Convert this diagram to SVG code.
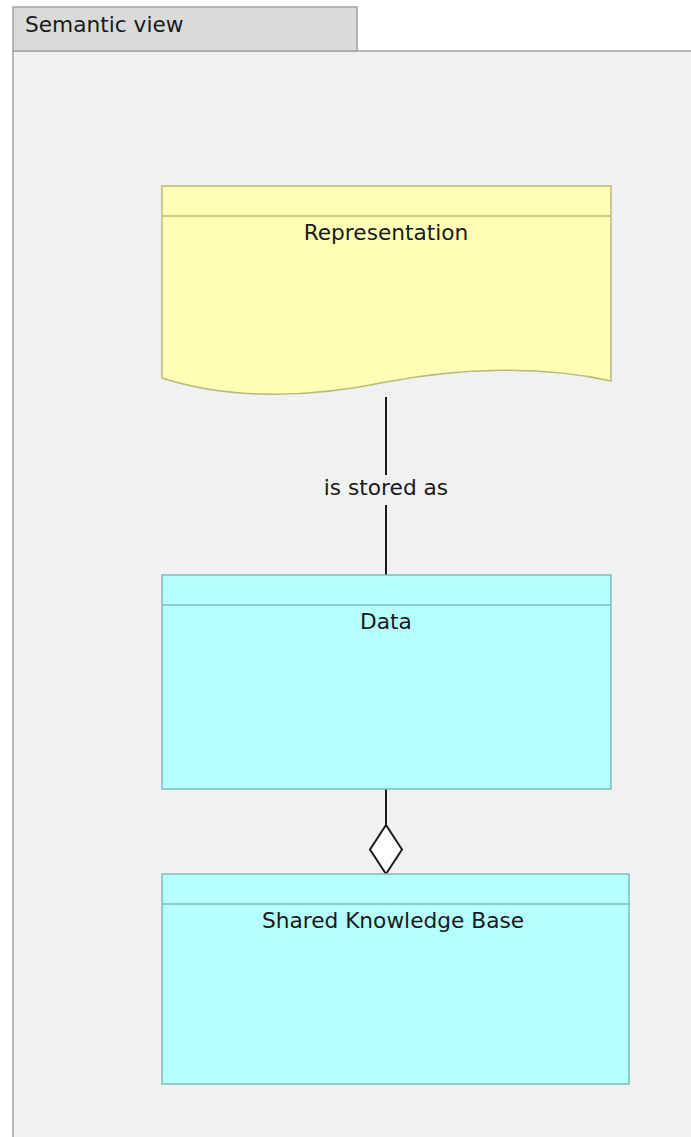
<svg xmlns="http://www.w3.org/2000/svg" width="691" height="1137" viewBox="0 0 691 1137">
  <style>
    .lbl { font-family: "DejaVu Sans", "Liberation Sans", sans-serif; font-size: 21.7px; fill: #1a1a1a; }
    .frame { fill: #f0f1f1; stroke: #a3a3a3; stroke-width: 1.5; }
    .tab { fill: #d9dbdb; stroke: #a3a3a3; stroke-width: 1.5; }
    .rep { fill: #ffffb5; stroke: #b9b97e; stroke-width: 1.5; }
    .app { fill: #b5ffff; stroke: #82b9b9; stroke-width: 1.5; }
    .conn { fill: none; stroke: #1a1a1a; stroke-width: 2; }
  </style>
  <rect width="691" height="1137" fill="#ffffff"/>

  <!-- view frame -->
  <g id="semantic-view">
    <rect class="frame" x="13" y="51" width="690" height="1100"/>
    <rect class="tab" x="13" y="7" width="344" height="44"/>
    <text class="lbl" x="25" y="32">Semantic view</text>
  </g>

  <!-- connectors -->
  <g id="connectors">
    <line class="conn" x1="386" y1="397" x2="386" y2="475"/>
    <line class="conn" x1="386" y1="505" x2="386" y2="575"/>
    <text class="lbl" x="386" y="495" text-anchor="middle">is stored as</text>
    <line class="conn" x1="386" y1="789" x2="386" y2="825"/>
    <polygon class="conn" points="386,825 402,849.5 386,874 370,849.5" style="fill:#ffffff"/>
  </g>

  <!-- representation node -->
  <g id="representation">
    <path class="rep" d="M162,186 H611 V381 C540,365 460,368 386,382 C310,398 230,400 162,378 Z"/>
    <line class="rep" x1="162" y1="216" x2="611" y2="216"/>
    <text class="lbl" x="386" y="240" text-anchor="middle">Representation</text>
  </g>

  <!-- data node -->
  <g id="data">
    <rect class="app" x="162" y="575" width="449" height="214"/>
    <line class="app" x1="162" y1="605" x2="611" y2="605"/>
    <text class="lbl" x="386" y="629" text-anchor="middle">Data</text>
  </g>

  <!-- shared knowledge base node -->
  <g id="shared-knowledge-base">
    <rect class="app" x="162" y="874" width="467" height="210"/>
    <line class="app" x1="162" y1="904" x2="629" y2="904"/>
    <text class="lbl" x="393" y="928" text-anchor="middle">Shared Knowledge Base</text>
  </g>
</svg>
